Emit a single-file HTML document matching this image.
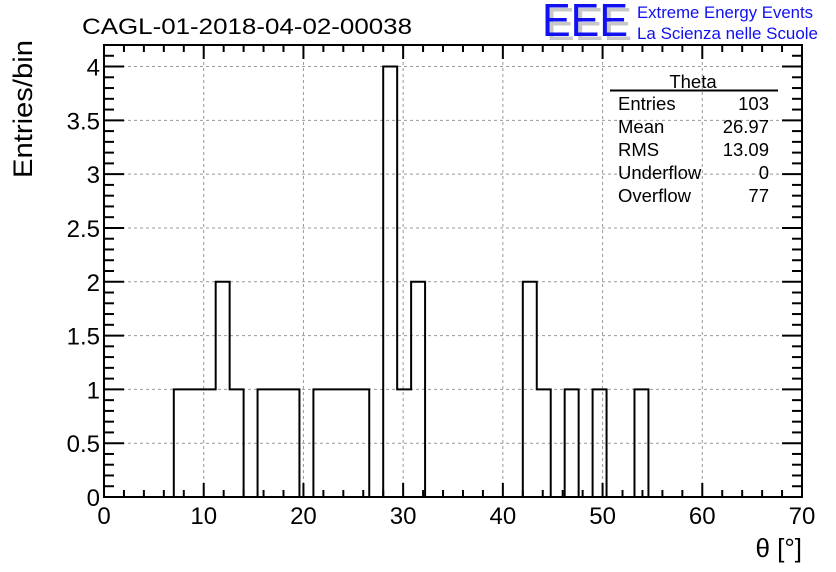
<!DOCTYPE html>
<html><head><meta charset="utf-8"><style>
html,body{margin:0;padding:0;background:#fff}
svg{display:block;font-family:"Liberation Sans",sans-serif}
</style></head><body>
<svg id="c" width="836" height="572" viewBox="0 0 836 572">
<rect x="0" y="0" width="836" height="572" fill="#fff"/>
<text x="82" y="34" font-size="22" textLength="330" lengthAdjust="spacingAndGlyphs">CAGL-01-2018-04-02-00038</text>
<g>
<text x="546" y="40" font-size="46" fill="#c8c8c8" textLength="86" lengthAdjust="spacingAndGlyphs">EEE</text>
<text x="542" y="36" font-size="46" fill="#1010f0" textLength="86" lengthAdjust="spacingAndGlyphs">EEE</text>
<text x="637" y="18" font-size="17" fill="#1010f0" textLength="176" lengthAdjust="spacingAndGlyphs">Extreme Energy Events</text>
<text x="637" y="39" font-size="17" fill="#1010f0" textLength="181" lengthAdjust="spacingAndGlyphs">La Scienza nelle Scuole</text>
</g>
<g id="grid"></g>
<g id="hist"></g>
<g id="axes"></g>
<text x="32" y="40" font-size="27" text-anchor="end" textLength="138" lengthAdjust="spacingAndGlyphs" transform="rotate(-90 32 40)">Entries/bin</text>
<text x="802" y="557" font-size="26" text-anchor="end">θ [°]</text>
<g font-size="18.5">
<text x="693" y="88" text-anchor="middle">Theta</text>
<line x1="610" y1="90.5" x2="778" y2="90.5" stroke="#000" stroke-width="2"/>
<text x="618" y="110">Entries</text><text x="769" y="110" text-anchor="end">103</text>
<text x="618" y="133">Mean</text><text x="769" y="133" text-anchor="end">26.97</text>
<text x="618" y="156">RMS</text><text x="769" y="156" text-anchor="end">13.09</text>
<text x="618" y="179">Underflow</text><text x="769" y="179" text-anchor="end">0</text>
<text x="618" y="202">Overflow</text><text x="769" y="202" text-anchor="end">77</text>
</g>
</svg>
<script>
const binEdgesStart = 0, binWidth = 1.4;
const counts = [0,0,0,0,0,1,1,1,2,1,0,1,1,1,0,1,1,1,1,0,4,1,2,0,0,0,0,0,0,0,2,1,0,1,0,1,0,0,1,0,0,0,0,0,0,0,0,0,0,0];
const xTicks = [0,10,20,30,40,50,60,70];
const xTickLabels = ["0","10","20","30","40","50","60","70"];
const yTicks = [0,0.5,1,1.5,2,2.5,3,3.5,4];
const yTickLabels = ["0","0.5","1","1.5","2","2.5","3","3.5","4"];
const X0=104,X1=802,Y0=497,Y1=45,xMin=0,xMax=70,yMin=0,yMax=4.2;
const sx=v=>X0+(v-xMin)/(xMax-xMin)*(X1-X0);
const sy=v=>Y0-(v-yMin)/(yMax-yMin)*(Y0-Y1);
const NS="http://www.w3.org/2000/svg";
function mk(t,a,p){const e=document.createElementNS(NS,t);for(const k in a)e.setAttribute(k,a[k]);p.appendChild(e);return e;}
const grid=document.getElementById('grid'),hist=document.getElementById('hist'),axes=document.getElementById('axes');
xTicks.forEach(v=>{if(v>xMin&&v<xMax){const l=mk('line',{x1:sx(v),x2:sx(v),y1:Y0,y2:Y1,stroke:'#999','stroke-dasharray':'3,3'},grid);

}});
yTicks.forEach(v=>{if(v>yMin){const l=mk('line',{x1:X0,x2:X1,y1:sy(v),y2:sy(v),stroke:'#999','stroke-dasharray':'3,3'},grid);

}});
let d='M'+sx(binEdgesStart)+','+sy(0);
counts.forEach((c,i)=>{const a=sx(binEdgesStart+i*binWidth),b=sx(binEdgesStart+(i+1)*binWidth);d+=' L'+a+','+sy(c)+' L'+b+','+sy(c);});
d+=' L'+sx(binEdgesStart+counts.length*binWidth)+','+sy(0);
const p=mk('path',{d:d,fill:'none',stroke:'#000','stroke-width':2},hist);


const fr=mk('rect',{x:X0,y:Y1,width:X1-X0,height:Y0-Y1,fill:'none',stroke:'#000','stroke-width':2},axes);


for(let v=xMin;v<=xMax+1e-9;v+=2){const maj=Math.abs(v%10)<1e-9,L=maj?14:7;
mk('line',{x1:sx(v),x2:sx(v),y1:Y0,y2:Y0-L,stroke:'#000','stroke-width':2},axes);
mk('line',{x1:sx(v),x2:sx(v),y1:Y1,y2:Y1+L,stroke:'#000','stroke-width':2},axes);}
for(let k=0;k<=42;k++){const v=k*0.1,maj=k%5===0,L=maj?20:10;
mk('line',{x1:X0,x2:X0+L,y1:sy(v),y2:sy(v),stroke:'#000','stroke-width':2},axes);
mk('line',{x1:X1,x2:X1-L,y1:sy(v),y2:sy(v),stroke:'#000','stroke-width':2},axes);}
xTicks.forEach((v,i)=>{const t=mk('text',{x:sx(v),y:Y0+27,'font-size':24,'text-anchor':'middle'},axes);t.textContent=xTickLabels[i];

});
yTicks.forEach((v,i)=>{const t=mk('text',{x:X0-4,y:sy(v)+9,'font-size':24,'text-anchor':'end'},axes);t.textContent=yTickLabels[i];

});
</script>
</body></html>
